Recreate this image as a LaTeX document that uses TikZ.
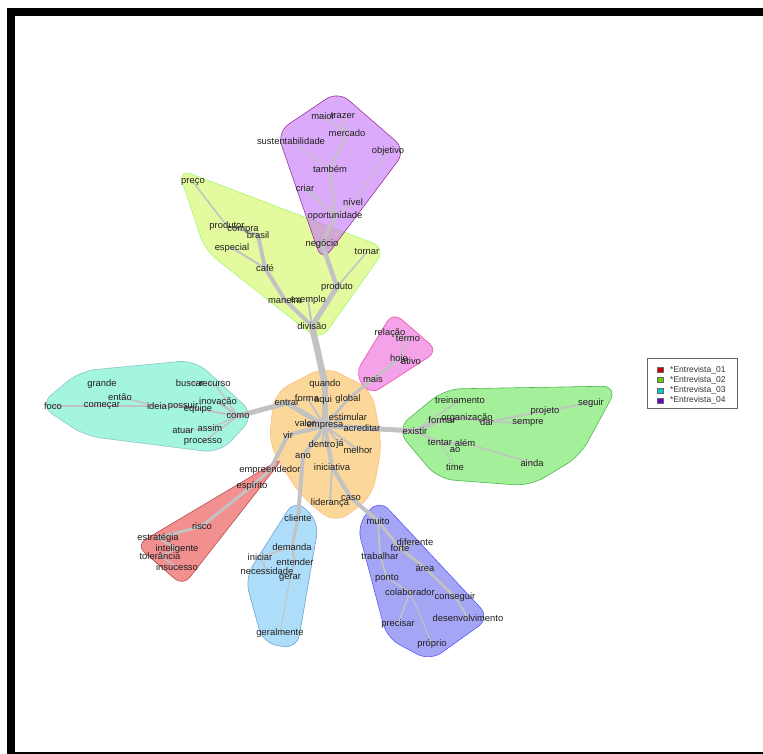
\documentclass[tikz,border=0pt]{standalone}
\usepackage{fontspec}
\setmainfont{Liberation Sans}
\pgfdeclarelayer{hulls}
\pgfdeclarelayer{links}
\pgfsetlayers{hulls,links,main}
\definecolor{hlime}{HTML}{E3FA9E}
\definecolor{hpurple}{HTML}{C571F7}
\definecolor{hpink}{HTML}{F4A3E8}
\definecolor{horange}{HTML}{FBD79A}
\definecolor{hcyan}{HTML}{A3F5DF}
\definecolor{hgreen}{HTML}{A4F09A}
\definecolor{hred}{HTML}{F29090}
\definecolor{hblue}{HTML}{AEDDF9}
\definecolor{hviolet}{HTML}{A5A5F5}

\begin{document}
\begin{tikzpicture}[x=1pt,y=-1pt,
	word/.style={inner sep=0pt, text=black!88, font=\fontsize{9.4}{10}\selectfont},
	link/.style={draw=black!24, line cap=round},
	hull/.style={rounded corners=14pt, line width=0.6pt},
	key/.style={inner sep=0pt, anchor=west, text=black!80, font=\fontsize{8.5}{9}\selectfont}]
	%%%%% FRAME %%%%%
	\useasboundingbox (0,0) rectangle (763,754);
	\fill[black] (7,8) rectangle (763,16);
	\fill[black] (7,8) rectangle (15,754);
	\fill[black] (7,752) rectangle (763,754);
	
	%%%%% WORDS %%%%%
	% Entrevista 04 (top)
	\node[word] (maior) at (323,116) {maior};
	\node[word] (trazer) at (343,116) {trazer};
	\node[word] (mercado) at (347,133) {mercado};
	\node[word] (sustentabilidade) at (291,141) {sustentabilidade};
	\node[word] (objetivo) at (388,151) {objetivo};
	\node[word] (tambem) at (330,169) {também};
	\node[word] (criar) at (305,188) {criar};
	\node[word] (nivel) at (353,202) {nível};
	\node[word] (oportunidade) at (335,216) {oportunidade};
	\node[word] (negocio) at (322,244) {negócio};
	% upper left
	\node[word] (preco) at (193,182) {preço};
	\node[word] (produtor) at (227,226) {produtor};
	\node[word] (compra) at (243,230) {compra};
	\node[word] (brasil) at (258,235) {brasil};
	\node[word] (especial) at (232,248) {especial};
	\node[word] (cafe) at (265,268) {café};
	\node[word] (tornar) at (367,252) {tornar};
	\node[word] (produto) at (337,287) {produto};
	\node[word] (maneira) at (285,300) {maneira};
	\node[word] (exemplo) at (308,300) {exemplo};
	\node[word] (divisao) at (312,326) {divisão};
	% small pink one
	\node[word] (relacao) at (390,333) {relação};
	\node[word] (termo) at (408,339) {termo};
	\node[word] (hoje) at (399,359) {hoje};
	\node[word] (ativo) at (411,361) {ativo};
	\node[word] (mais) at (373,379) {mais};
	% centre
	\node[word] (quando) at (325,384) {quando};
	\node[word] (forma) at (307,398) {forma};
	\node[word] (aqui) at (323,400) {aqui};
	\node[word] (global) at (348,399) {global};
	\node[word] (entrar) at (287,403) {entrar};
	\node[word] (estimular) at (348,417) {estimular};
	\node[word] (valor) at (305,423) {valor};
	\node[word] (empresa) at (325,426) {empresa};
	\node[word] (acreditar) at (362,428) {acreditar};
	\node[word] (vir) at (288,435) {vir};
	\node[word] (dentro) at (322,444) {dentro};
	\node[word] (ja) at (340,444) {já};
	\node[word] (melhor) at (358,450) {melhor};
	\node[word] (ano) at (303,456) {ano};
	\node[word] (iniciativa) at (332,467) {iniciativa};
	\node[word] (caso) at (351,498) {caso};
	\node[word] (lideranca) at (330,503) {liderança};
	% left
	\node[word] (grande) at (102,384) {grande};
	\node[word] (entao) at (120,397) {então};
	\node[word] (foco) at (53,406) {foco};
	\node[word] (comecar) at (102,406) {começar};
	\node[word] (ideia) at (157,406) {ideia};
	\node[word] (possuir) at (183,406) {possuir};
	\node[word] (buscar) at (190,383) {buscar};
	\node[word] (recurso) at (215,384) {recurso};
	\node[word] (inovacao) at (218,402) {inovação};
	\node[word] (equipe) at (198,409) {equipe};
	\node[word] (como) at (238,416) {como};
	\node[word] (assim) at (210,428) {assim};
	\node[word] (atuar) at (183,431) {atuar};
	\node[word] (processo) at (203,442) {processo};
	% right
	\node[word] (treinamento) at (460,400) {treinamento};
	\node[word] (organizacao) at (467,418) {organização};
	\node[word] (formar) at (442,420) {formar};
	\node[word] (dar) at (487,422) {dar};
	\node[word] (projeto) at (545,411) {projeto};
	\node[word] (sempre) at (528,423) {sempre};
	\node[word] (seguir) at (591,403) {seguir};
	\node[word] (existir) at (415,431) {existir};
	\node[word] (tentar) at (440,443) {tentar};
	\node[word] (alem) at (465,443) {além};
	\node[word] (ao) at (455,450) {ao};
	\node[word] (ainda) at (532,463) {ainda};
	\node[word] (time) at (455,467) {time};
	% lower left
	\node[word] (empreendedor) at (270,470) {empreendedor};
	\node[word] (espirito) at (252,486) {espírito};
	\node[word] (risco) at (202,526) {risco};
	\node[word] (estrategia) at (158,538) {estratégia};
	\node[word] (inteligente) at (177,549) {inteligente};
	\node[word] (tolerancia) at (160,556) {tolerância};
	\node[word] (insucesso) at (177,567) {insucesso};
	% bottom
	\node[word] (cliente) at (298,518) {cliente};
	\node[word] (demanda) at (292,547) {demanda};
	\node[word] (iniciar) at (260,557) {iniciar};
	\node[word] (entender) at (295,562) {entender};
	\node[word] (necessidade) at (267,571) {necessidade};
	\node[word] (gerar) at (290,578) {gerar};
	\node[word] (geralmente) at (280,633) {geralmente};
	% lower right
	\node[word] (muito) at (378,521) {muito};
	\node[word] (diferente) at (415,542) {diferente};
	\node[word] (forte) at (400,548) {forte};
	\node[word] (trabalhar) at (380,556) {trabalhar};
	\node[word] (area) at (425,568) {área};
	\node[word] (ponto) at (387,578) {ponto};
	\node[word] (colaborador) at (410,592) {colaborador};
	\node[word] (conseguir) at (455,597) {conseguir};
	\node[word] (desenvolvimento) at (468,618) {desenvolvimento};
	\node[word] (precisar) at (398,624) {precisar};
	\node[word] (proprio) at (432,644) {próprio};
	
	%%%%% LINKS %%%%%
	\begin{pgfonlayer}{links}
		\foreach \a/\b/\w in {divisao/quando/6.5, quando/empresa/6, divisao/produto/5, produto/negocio/4.5,
			divisao/maneira/4, maneira/cafe/4, cafe/brasil/4, brasil/compra/2.5, compra/produtor/2,
			produtor/preco/1.5, cafe/especial/2, produto/tornar/1.5, divisao/exemplo/2,
			negocio/oportunidade/3, oportunidade/criar/2, oportunidade/tambem/2.5, tambem/mercado/2,
			mercado/trazer/1.5, mercado/maior/1.5, oportunidade/nivel/1.5, nivel/objetivo/1,
			tambem/sustentabilidade/1,
			global/mais/3, empresa/global/3, mais/hoje/2.5, hoje/termo/1.5, hoje/ativo/1.5, termo/relacao/1.5,
			empresa/entrar/5, entrar/como/5, como/inovacao/2.5, como/equipe/2, equipe/possuir/2,
			possuir/ideia/2, ideia/comecar/2, comecar/foco/1.5, ideia/entao/1.5, como/recurso/1.5,
			recurso/buscar/1.5, como/assim/1.5, assim/atuar/1, como/processo/1.5,
			empresa/acreditar/5, acreditar/existir/5, existir/formar/3, formar/organizacao/3,
			organizacao/dar/2.5, dar/projeto/2, projeto/seguir/1.5, dar/sempre/1.5, existir/tentar/2,
			tentar/alem/2, alem/ainda/1.5, tentar/ao/1, tentar/time/1, existir/treinamento/1.5,
			empresa/vir/4, vir/empreendedor/4, empreendedor/espirito/3, espirito/risco/3,
			risco/estrategia/3, estrategia/inteligente/2, inteligente/tolerancia/1.5,
			tolerancia/insucesso/1.5,
			empresa/ano/4, ano/cliente/4, cliente/demanda/3, demanda/entender/2, entender/gerar/1.5,
			demanda/iniciar/1.5, iniciar/necessidade/1.5, gerar/geralmente/1,
			empresa/iniciativa/4, iniciativa/caso/4, caso/muito/4, muito/forte/3, forte/diferente/2,
			forte/area/3, area/conseguir/2.5, conseguir/desenvolvimento/2, muito/trabalhar/2,
			trabalhar/ponto/2, ponto/colaborador/1.5, colaborador/precisar/1.5, colaborador/proprio/1,
			empresa/forma/2, empresa/aqui/2, empresa/estimular/2, empresa/valor/2, empresa/dentro/2,
			empresa/ja/2, empresa/melhor/2, iniciativa/lideranca/2}
		\draw[link, line width=\w pt] (\a.center) -- (\b.center);
	\end{pgfonlayer}
	
	%%%%% HULLS %%%%%
	\begin{pgfonlayer}{hulls}
		\draw[hull, fill=hlime, draw=hlime!70!green] (178,169) -- (386,248) -- (320,341) -- (205,250) -- cycle;
		\draw[hull, fill=hpurple, fill opacity=0.6, draw=violet!80] (338,91) -- (277,132) -- (322,262)
			-- (406,150) -- cycle;
		\draw[hull, rounded corners=11pt, fill=hpink, draw=magenta!70] (393,312) -- (438,351) -- (370,395)
			-- (355,374) -- cycle;
		\draw[hull, rounded corners=16pt, fill=horange, draw=orange!50] (325,366) -- (372,390) -- (382,445)
			-- (372,497) -- (335,524) -- (300,495) -- (269,445) -- (274,393) -- cycle;
		\draw[hull, rounded corners=16pt, fill=hcyan, draw=teal!45] (39,405) -- (80,371) -- (195,360)
			-- (255,415) -- (220,453) -- (85,436) -- cycle;
		\draw[hull, rounded corners=16pt, fill=hgreen, draw=green!60!black!70] (396,429) -- (445,389)
			-- (618,386) -- (580,456) -- (530,486) -- (438,479) -- cycle;
		\draw[hull, rounded corners=11pt, fill=hred, draw=red!60!black!70] (284,457) -- (183,586)
			-- (136,545) -- cycle;
		\draw[hull, fill=hblue, draw=cyan!60!blue!60] (295,499) -- (319,522) -- (297,649)
			-- (263,643) -- (245,578) -- cycle;
		\draw[hull, fill=hviolet, draw=blue!65] (379,499) -- (490,618) -- (430,661) -- (387,638)
			-- (357,525) -- cycle;
	\end{pgfonlayer}
	
	%%%%% LEGEND %%%%%
	\draw[black!60, line width=0.7pt] (647,358) rectangle (737,408);
	\foreach \c/\n [count=\i] in {CC0000/01, 66CC00/02, 00CCCC/03, 6600CC/04} {
		\definecolor{keycol}{HTML}{\c}
		\draw[fill=keycol, draw=black!60, line width=0.4pt] (657,{357+10.3*\i}) rectangle (663,{362+10.3*\i});
		\node[key] (key\i) at (670,{359.5+10.3*\i}) {*Entrevista\_\n};
	}
\end{tikzpicture}
\end{document}
